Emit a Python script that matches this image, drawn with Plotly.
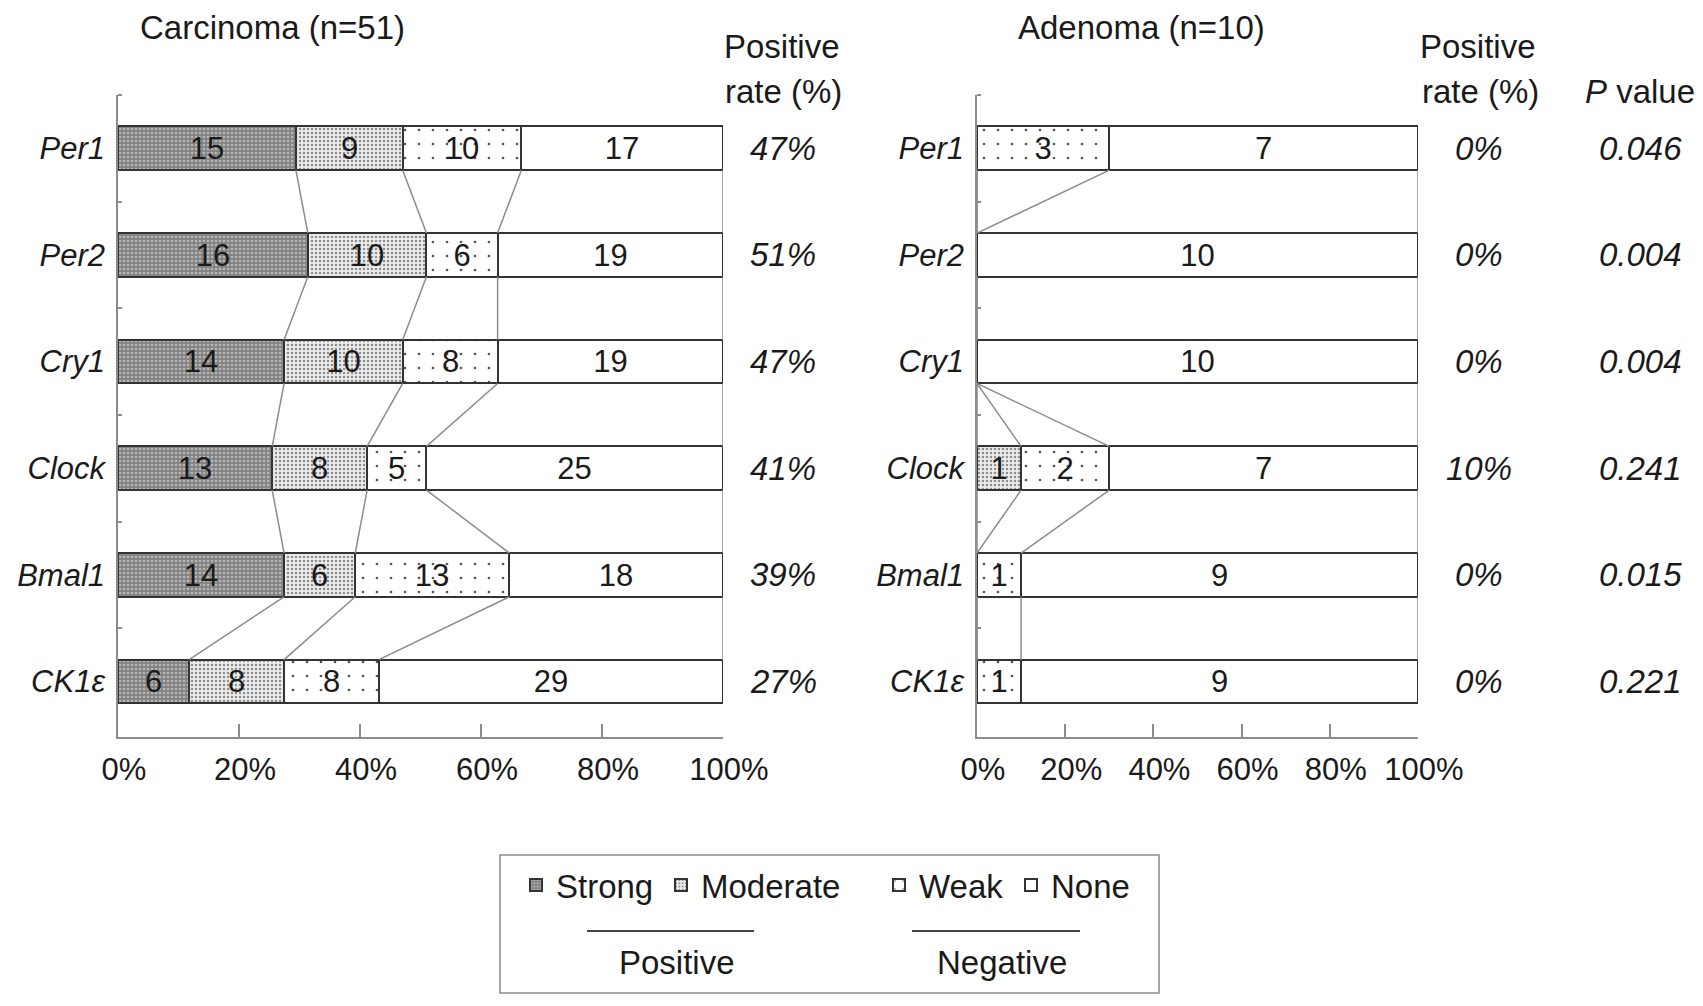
import plotly.graph_objects as go

W, H = 1703, 1006
OFF = 8  # page body margin offset

genes = ["Per1", "Per2", "Cry1", "Clock", "Bmal1", "CK1ε"]
carc_strong = [15, 16, 14, 13, 14, 6]
carc_moderate = [9, 10, 10, 8, 6, 8]
carc_weak = [10, 6, 8, 5, 13, 8]
carc_none = [17, 19, 19, 25, 18, 29]
aden_strong = [0, 0, 0, 0, 0, 0]
aden_moderate = [0, 0, 0, 1, 0, 0]
aden_weak = [3, 0, 0, 2, 1, 1]
aden_none = [7, 10, 10, 7, 9, 9]
carc_rate = ["47%", "51%", "47%", "41%", "39%", "27%"]
aden_rate = ["0%", "0%", "0%", "10%", "0%", "0%"]
p_values = ["0.046", "0.004", "0.004", "0.241", "0.015", "0.221"]
x_ticks = [0, 20, 40, 60, 80, 100]
x_ticktext = ["0%", "20%", "40%", "60%", "80%", "100%"]

FONT = "Liberation Sans, Arial, sans-serif"
FS = 31
FA = 33
TXT = "#1a1a1a"
GRAY = "#8c8c8c"
EDGE = "#333333"
BARW = 0.41

def px(x):
    return (x - OFF) / W

def py(y):
    return 1 - (y - OFF) / H

levels = [
    ("Strong", dict(shape=".", bgcolor="#828282", fgcolor="#b8b8b8", size=4, solidity=0.35)),
    ("Moderate", dict(shape=".", bgcolor="#ececec", fgcolor="#8e8e8e", size=4, solidity=0.3)),
    ("Weak", dict(shape=".", bgcolor="#ffffff", fgcolor="#555555", size=14, solidity=0.03)),
    ("None", dict(shape="", bgcolor="#ffffff", fgcolor="#ffffff", size=8, solidity=0.1)),
]
legend_names = ["legend", "legend2", "legend3", "legend4"]
legend_x = [521, 666, 884, 1016]

fig = go.Figure()

panels = [
    ("x", "y", [carc_strong, carc_moderate, carc_weak, carc_none], True),
    ("x2", "y2", [aden_strong, aden_moderate, aden_weak, aden_none], False),
]

for xa, ya, series, show_leg in panels:
    n = [sum(v) for v in zip(*series)]
    for li, ((name, pat), vals) in enumerate(zip(levels, series)):
        xs = [v / t * 100 for v, t in zip(vals, n)]
        fig.add_trace(go.Bar(
            y=list(range(len(genes))), x=xs, orientation="h", name=name,
            width=BARW, xaxis=xa, yaxis=ya,
            text=[str(v) if v > 0 else "" for v in vals],
            textposition="inside", insidetextanchor="middle", textangle=0,
            constraintext="none",
            textfont=dict(family=FONT, size=FS, color=TXT),
            marker=dict(color="#ffffff", line=dict(color=EDGE, width=2), pattern=pat),
            showlegend=show_leg,
            legend=legend_names[li],
            hoverinfo="skip",
        ))
    # connecting lines between cumulative boundaries
    cums = []
    for i in range(len(genes)):
        c, acc = [], 0
        for s in series:
            acc += s[i]
            c.append(acc / n[i] * 100)
        cums.append(c)
    lx, ly = [], []
    for i in range(len(genes) - 1):
        for k in range(4):
            lx += [cums[i][k], cums[i + 1][k], None]
            ly += [i + BARW / 2, i + 1 - BARW / 2, None]
    fig.add_trace(go.Scatter(x=lx, y=ly, mode="lines", xaxis=xa, yaxis=ya,
                             line=dict(color=GRAY, width=1.5), showlegend=False,
                             hoverinfo="skip"))

ydom = [py(737), py(95)]
yrange = [5.52, -0.5]
axis_common = dict(showgrid=False, zeroline=False, showline=True, linecolor=GRAY, linewidth=1.5,
                   automargin=False)

xcommon = dict(axis_common, range=[0, 100], tickmode="array", tickvals=x_ticks, ticktext=x_ticktext,
               ticks="inside", ticklen=13, tickcolor=GRAY, tickwidth=1.5,
               tickfont=dict(family=FONT, size=FS, color=TXT), ticklabelstandoff=4,
               ticklabelshift=6)
ycommon = dict(axis_common, range=yrange, domain=ydom, tickmode="array",
               tickvals=list(range(len(genes))), ticktext=[f"<i>{g}</i>" for g in genes],
               ticks="", tickfont=dict(family=FONT, size=FS, color=TXT), ticklabelstandoff=5,
               minor=dict(tickmode="array", tickvals=[-0.5, 0.5, 1.5, 2.5, 3.5, 4.5],
                          ticks="inside", ticklen=4, tickcolor=GRAY, tickwidth=1.5))

legends = {}
for ln, lxp in zip(legend_names, legend_x):
    legends[ln] = dict(orientation="h", x=px(lxp - 5), xanchor="left", y=py(885), yanchor="middle",
                       bgcolor="rgba(0,0,0,0)", borderwidth=0,
                       font=dict(family=FONT, size=FA, color=TXT))

fig.update_layout(
    template="none",
    width=W, height=H, margin=dict(l=0, r=0, t=0, b=0, autoexpand=False),
    paper_bgcolor="white", plot_bgcolor="white",
    barmode="stack", bargap=0,
    font=dict(family=FONT, size=FS, color=TXT),
    xaxis=dict(xcommon, domain=[px(118), px(723)], anchor="y"),
    xaxis2=dict(xcommon, domain=[px(977), px(1418)], anchor="y2"),
    yaxis=dict(ycommon, anchor="x"),
    yaxis2=dict(ycommon, anchor="x2"),
    **legends,
)

ann = []
def add_text(x, y, text, yref="paper", xanchor="center", yanchor="middle"):
    ann.append(dict(x=x, y=y, xref="paper", yref=yref, text=text, showarrow=False,
                    xanchor=xanchor, yanchor=yanchor, borderpad=0,
                    font=dict(family=FONT, size=FA, color=TXT)))

add_text(px(272), 1.0, "Carcinoma (n=51)", yanchor="top")
add_text(px(1141), 1.0, "Adenoma (n=10)", yanchor="top")
add_text(px(782), py(46), "Positive")
add_text(px(783), py(91), "rate (%)")
add_text(px(1478), py(46), "Positive")
add_text(px(1480), py(91), "rate (%)")
add_text(px(1640), py(91), "<i>P</i> value")
for i in range(len(genes)):
    add_text(px(783), i, f"<i>{carc_rate[i]}</i>", yref="y")
    add_text(px(1479), i, f"<i>{aden_rate[i]}</i>", yref="y")
    add_text(px(1640), i, f"<i>{p_values[i]}</i>", yref="y")
add_text(px(677), py(962), "Positive")
add_text(px(1002), py(962), "Negative")
fig.update_layout(annotations=ann)

shapes = [
    dict(type="rect", xref="paper", yref="paper", x0=px(500), x1=px(1159), y0=py(855), y1=py(993),
         line=dict(color=GRAY, width=1.5), fillcolor="rgba(0,0,0,0)"),
    dict(type="line", xref="paper", yref="paper", x0=px(587), x1=px(754), y0=py(931), y1=py(931),
         line=dict(color="#444444", width=2)),
    dict(type="line", xref="paper", yref="paper", x0=px(912), x1=px(1080), y0=py(931), y1=py(931),
         line=dict(color="#444444", width=2)),
]
fig.update_layout(shapes=shapes)

fig.write_html("out.html")
